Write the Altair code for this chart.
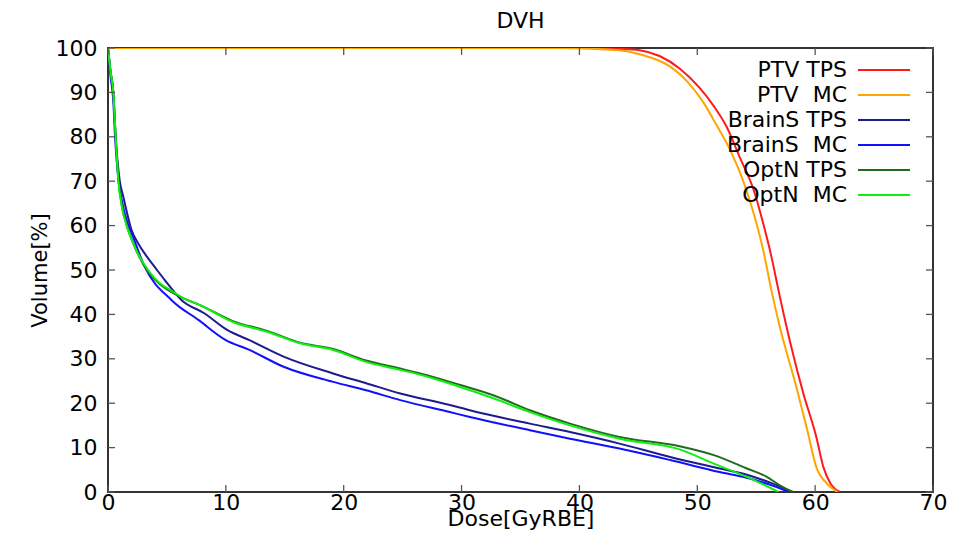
import altair as alt
import pandas as pd

FONT = "DejaVu Sans"

series_names = ["PTV TPS", "PTV MC", "BrainS TPS", "BrainS MC", "OptN TPS", "OptN MC"]
legend_labels = ["PTV TPS", "PTV\u00a0 MC", "BrainS TPS", "BrainS\u00a0 MC", "OptN TPS", "OptN\u00a0 MC"]
series_colors = ["#ff1a1a", "#ffa500", "#1c1c8e", "#1010ff", "#216b21", "#10ee10"]

ptv_tps_dose = [0, 40, 43.4, 45.1, 46.8, 48.5, 50.2, 51.4, 52.5, 53.6, 54.8, 55.6, 56.3, 56.9, 57.9, 59.0,
                60.1, 60.7, 61.3, 62.1]
ptv_tps_vol = [100, 100, 99.8, 99.5, 98.2, 95.4, 91.0, 86.9, 82.2, 75.4, 67.9, 60.4, 52.9, 45.3, 33.5, 22.2,
               12.4, 5.6, 1.9, 0]

ptv_mc_dose = [0, 38, 43.4, 45.1, 47.7, 49.1, 50.5, 51.6, 52.8, 53.9, 54.8, 55.6, 56.3, 57.0, 58.4, 59.3,
               60.1, 61.0, 61.9]
ptv_mc_vol = [100, 100, 99.5, 98.6, 95.8, 92.6, 87.8, 82.8, 77.0, 70.0, 62.6, 54.4, 45.3, 37.2, 23.7, 14.3,
              5.6, 1.9, 0]

brain_tps_dose = [0, 0.2, 0.45, 0.65, 1.0, 1.3, 2.0, 2.6, 3.3, 4.1, 4.8, 6.25, 8.2, 10.1, 12.0, 14.9, 19.1, 21.9,
                  24.8, 29.0, 30.7, 35.8, 39.2, 43.4, 47.7, 51.9, 54.2, 56.2, 58.1]
brain_tps_vol = [100, 95, 90, 80, 70, 66.5, 59.0, 55.8, 53.0, 50.2, 47.8, 43.2, 40.2, 36.5, 34.2, 30.5, 26.7, 24.5,
                 22.2, 19.6, 18.4, 15.4, 13.5, 10.9, 7.9, 5.3, 3.9, 2.1, 0]

brain_mc_dose = [0, 0.2, 0.45, 0.6, 0.9, 1.16, 1.73, 2.0, 3.1, 5.4, 7.7, 10.0, 12.0, 14.9, 19.1, 21.9, 24.8,
                 29.0, 30.7, 35.8, 39.2, 43.4, 47.7, 51.9, 54.2, 56.0, 57.8]
brain_mc_vol = [100, 94, 88, 80, 70, 65.8, 60.0, 58.3, 50.8, 43.2, 38.7, 34.2, 32.0, 28.2, 24.8, 22.9, 20.7,
                18.0, 16.9, 13.9, 12.0, 9.8, 7.2, 4.5, 3.2, 1.8, 0]

optn_tps_dose = [0, 0.2, 0.45, 0.65, 0.9, 1.2, 1.6, 2.3, 3.3, 4.4, 5.4, 6.5, 7.8, 10.6, 13.5, 16.3, 19.1, 21.9,
                 24.8, 26.5, 29.9, 32.7, 35.8, 39.2, 43.4, 48.5, 51.4, 54.2, 55.9, 57.0, 58.1]
optn_tps_vol = [100, 95, 90, 80, 70, 64, 60, 55, 50, 46.8, 45.0, 43.5, 42.1, 38.5, 36.3, 33.6, 32.2, 29.6,
                27.8, 26.7, 24.1, 21.8, 18.4, 15.4, 12.4, 10.3, 8.3, 5.3, 3.4, 1.5, 0]

optn_mc_dose = [0, 0.2, 0.45, 0.65, 0.88, 1.2, 1.58, 2.3, 3.4, 4.4, 5.4, 6.5, 7.8, 10.6, 13.5, 16.3, 19.1, 21.9,
                24.8, 26.5, 29.5, 32.7, 35.8, 39.2, 43.4, 48.5, 51.4, 54.2, 56.9]
optn_mc_vol = [100, 95, 90, 80, 70, 64, 60, 55, 50, 47.0, 45.3, 43.5, 42.1, 38.3, 36.1, 33.5, 32.0, 29.3,
               27.5, 26.4, 24.0, 21.1, 18.0, 15.0, 12.0, 9.6, 6.4, 3.4, 0]

x_ticks = [0, 10, 20, 30, 40, 50, 60, 70]
y_ticks = [0, 10, 20, 30, 40, 50, 60, 70, 80, 90, 100]

all_series = [
    (ptv_tps_dose, ptv_tps_vol), (ptv_mc_dose, ptv_mc_vol),
    (brain_tps_dose, brain_tps_vol), (brain_mc_dose, brain_mc_vol),
    (optn_tps_dose, optn_tps_vol), (optn_mc_dose, optn_mc_vol),
]
rows = []
for name, (d, v) in zip(series_names, all_series):
    for i, (a, b) in enumerate(zip(d, v)):
        rows.append({"series": name, "dose": a, "vol": b, "idx": i})
df = pd.DataFrame(rows)

W, H = 825, 444
TICK = 7

xscale = alt.Scale(domain=[0, 70], nice=False, zero=False)
yscale = alt.Scale(domain=[0, 100], nice=False, zero=False)
color_scale = alt.Scale(domain=series_names, range=series_colors)

lines = alt.Chart(df).mark_line(strokeWidth=2, interpolate="monotone", clip=True).encode(
    x=alt.X("dose:Q", scale=xscale, axis=alt.Axis(
        values=x_ticks, title="Dose[GyRBE]", ticks=False, domain=False, grid=False,
        labelFont=FONT, labelFontSize=22, labelColor="black", labelPadding=0,
        labelFlush=False, labelOverlap=False,
        titleFont=FONT, titleFontSize=22, titleFontWeight="normal", titleColor="black",
        titleX=W / 2, titleY=33, titleBaseline="alphabetic", titleAlign="center")),
    y=alt.Y("vol:Q", scale=yscale, axis=alt.Axis(
        values=y_ticks, title="Volume[%]", ticks=False, domain=False, grid=False,
        labelFont=FONT, labelFontSize=22, labelColor="black", labelPadding=11,
        labelFlush=False, labelOverlap=False,
        titleFont=FONT, titleFontSize=21, titleFontWeight="normal", titleColor="black",
        titleX=-68, titleY=H / 2, titleAngle=-90, titleBaseline="middle", titleAlign="center")),
    color=alt.Color("series:N", scale=color_scale, legend=None),
    order=alt.Order("idx:Q"),
)

xt = pd.DataFrame({"v": x_ticks})
yt = pd.DataFrame({"v": y_ticks})
tick_style = dict(color="#555555", strokeWidth=1.3)
bottom_ticks = alt.Chart(xt).mark_rule(**tick_style).encode(
    x=alt.X("v:Q", scale=xscale), y=alt.value(H), y2=alt.value(H - TICK))
top_ticks = alt.Chart(xt).mark_rule(**tick_style).encode(
    x=alt.X("v:Q", scale=xscale), y=alt.value(0), y2=alt.value(TICK))
left_ticks = alt.Chart(yt).mark_rule(**tick_style).encode(
    y=alt.Y("v:Q", scale=yscale, axis=None), x=alt.value(0), x2=alt.value(TICK))
right_ticks = alt.Chart(yt).mark_rule(**tick_style).encode(
    y=alt.Y("v:Q", scale=yscale, axis=None), x=alt.value(W), x2=alt.value(W - TICK))

leg_df = pd.DataFrame({"series": series_names, "label": legend_labels})
leg_y = alt.Y("series:N", sort=series_names,
              scale=alt.Scale(type="point", range=[22, 147], padding=0), axis=None)
leg_text = alt.Chart(leg_df).mark_text(
    align="right", baseline="middle", font=FONT, fontSize=22, color="black").encode(
    x=alt.value(739), y=leg_y, text="label:N")
leg_rule = alt.Chart(leg_df).mark_rule(strokeWidth=2).encode(
    x=alt.value(750), x2=alt.value(802), y=leg_y,
    color=alt.Color("series:N", scale=color_scale, legend=None))

chart = alt.layer(
    lines, bottom_ticks, top_ticks, left_ticks, right_ticks, leg_text, leg_rule
).resolve_scale(y="independent").properties(
    width=W, height=H,
    title=alt.TitleParams("DVH", font=FONT, fontSize=22, fontWeight="normal", color="black",
                          anchor="middle", frame="group", offset=4),
    padding={"left": 100, "top": 40, "right": 32, "bottom": 38},
    autosize=alt.AutoSizeParams(type="none"),
).configure_view(stroke="#333333", strokeWidth=2)

chart.save("out.html", embed_options={"renderer": "svg", "actions": False})
